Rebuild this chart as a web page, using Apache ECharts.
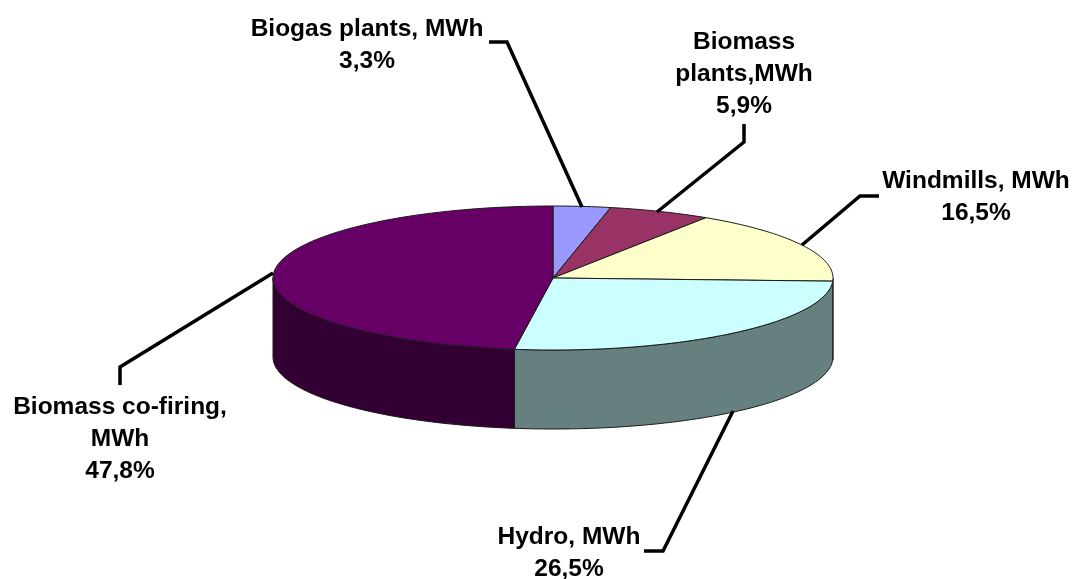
<!DOCTYPE html>
<html>
<head>
<meta charset="utf-8">
<title>Pie</title>
<style>
html,body{margin:0;padding:0;background:#fff}
#wrap1{width:1078px;height:579px}
</style>
<script src="https://cdn.jsdelivr.net/npm/echarts@6/dist/echarts.min.js"></script>
</head>
<body>
<div id="wrap1"></div>
<script>
var categories = ['Biogas plants, MWh', 'Biomass\nplants,MWh', 'Windmills, MWh', 'Hydro, MWh', 'Biomass co-firing,\nMWh'];
var shares = [3.3, 5.9, 16.5, 26.5, 47.8];
var topColors = ['#9999ff', '#993366', '#ffffcc', '#ccffff', '#660066'];
var sideColors = ['#4d4d80', '#4d1a33', '#808066', '#668080', '#330033'];

// pie geometry, pixels
var cx = 553, cy = 278, rx = 280, ry = 72, depth = 79;

// label centres and leader lines, pixels
var labelPos = [[367, 45], [744, 74], [976, 197], [569, 553], [120, 439]];
var leaders = [
    [[489, 42], [507, 42], [582, 207]],
    [[744, 124], [744, 142], [657, 212]],
    [[879, 196], [860, 196], [802, 245]],
    [[644, 551], [663, 551], [733, 411]],
    [[120, 385], [120, 367], [273, 273]]
];

var total = shares.reduce(function (a, b) { return a + b; }, 0);

function rimPoint(deg, dy) {
    var t = deg * Math.PI / 180;
    return [cx + rx * Math.sin(t), cy - ry * Math.cos(t) + (dy || 0)];
}

function arc(from, to, dy) {
    var pts = [], n = Math.max(2, Math.ceil(Math.abs(to - from)));
    for (var i = 0; i <= n; i++) {
        pts.push(rimPoint(from + (to - from) * i / n, dy));
    }
    return pts;
}

function renderSlice(params, api) {
    var i = params.dataIndex;
    var before = 0;
    for (var k = 0; k < i; k++) before += shares[k];
    var from = before / total * 360;
    var to = from + api.value(0) / total * 360;
    var children = [];

    // side wall only where the rim faces the viewer
    var sFrom = Math.max(from, 90), sTo = Math.min(to, 270);
    if (sTo > sFrom) {
        children.push({
            type: 'polygon',
            z2: 1,
            shape: {points: arc(sFrom, sTo, 0).concat(arc(sTo, sFrom, depth))},
            style: {fill: sideColors[i], stroke: '#1a1a1a', lineWidth: 1}
        });
    }
    children.push({
        type: 'polygon',
        z2: 2,
        shape: {points: [[cx, cy]].concat(arc(from, to, 0))},
        style: {fill: topColors[i], stroke: '#1a1a1a', lineWidth: 1}
    });
    children.push({
        type: 'polyline',
        z2: 3,
        shape: {points: leaders[i]},
        style: {fill: null, stroke: '#000', lineWidth: 3.5}
    });
    children.push({
        type: 'text',
        z2: 4,
        style: {
            text: categories[i] + '\n' + api.value(0).toFixed(1).replace('.', ',') + '%',
            x: labelPos[i][0],
            y: labelPos[i][1],
            align: 'center',
            verticalAlign: 'middle',
            font: 'bold 24.5px "Liberation Sans", Arial, sans-serif',
            lineHeight: 32,
            fill: '#000'
        }
    });
    return {type: 'group', children: children};
}

var myChart = echarts.init(document.getElementById('wrap1'), null, {renderer: 'canvas'});
myChart.setOption({
    backgroundColor: '#fff',
    animation: false,
    tooltip: {show: false},
    series: [{
        type: 'custom',
        coordinateSystem: 'none',
        silent: true,
        renderItem: renderSlice,
        data: shares.map(function (v) { return [v]; })
    }]
});
</script>
</body>
</html>
